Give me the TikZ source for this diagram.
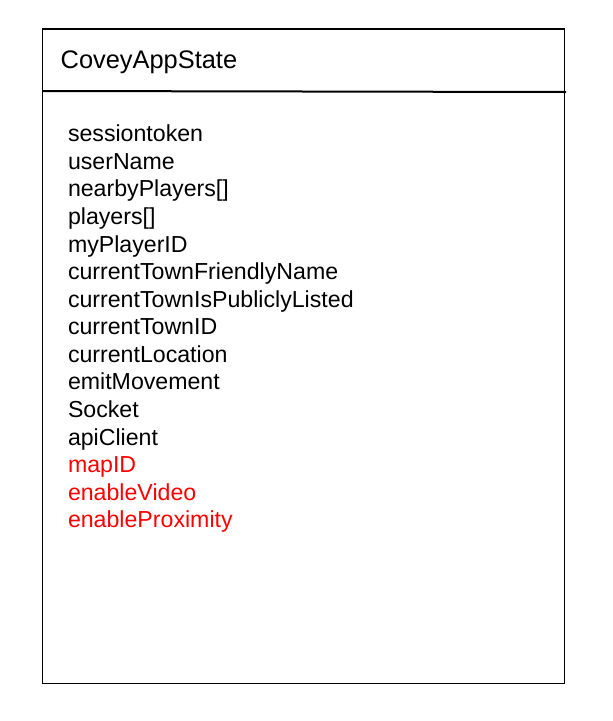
\documentclass[tikz,border=0pt]{standalone}
\usepackage{fontspec}
\setmainfont{Liberation Sans}
\begin{document}
\begin{tikzpicture}[x=1pt,y=-1pt,
  field/.style={anchor=base west,inner sep=0pt,font=\fontsize{23.15}{26}\selectfont},
  newfield/.style={field,text={rgb,255:red,255;green,0;blue,0}},
  titletext/.style={anchor=base west,inner sep=0pt,font=\fontsize{25.4}{30}\selectfont}]
\useasboundingbox (0,0) rectangle (613,721);
\draw[line width=1.3pt] (42.5,29) rectangle (564.5,683.5);
\coordinate (dl) at (43,91);
\coordinate (dr) at (566,92);
\draw[line width=2pt] (dl) -- (dr);
\node[titletext] (title) at (60.5,68.8) {CoveyAppState};
\foreach \t [count=\i from 0] in {sessiontoken,userName,nearbyPlayers[],players[],myPlayerID,currentTownFriendlyName,currentTownIsPubliclyListed,currentTownID,currentLocation,emitMovement,Socket,apiClient}{
  \node[field] (f\i) at (67.8,141.8+27.57*\i) {\t};
}
\foreach \t [count=\i from 12] in {mapID,enableVideo,enableProximity}{
  \node[newfield] (f\i) at (67.8,141.8+27.57*\i) {\t};
}
\end{tikzpicture}
\end{document}
